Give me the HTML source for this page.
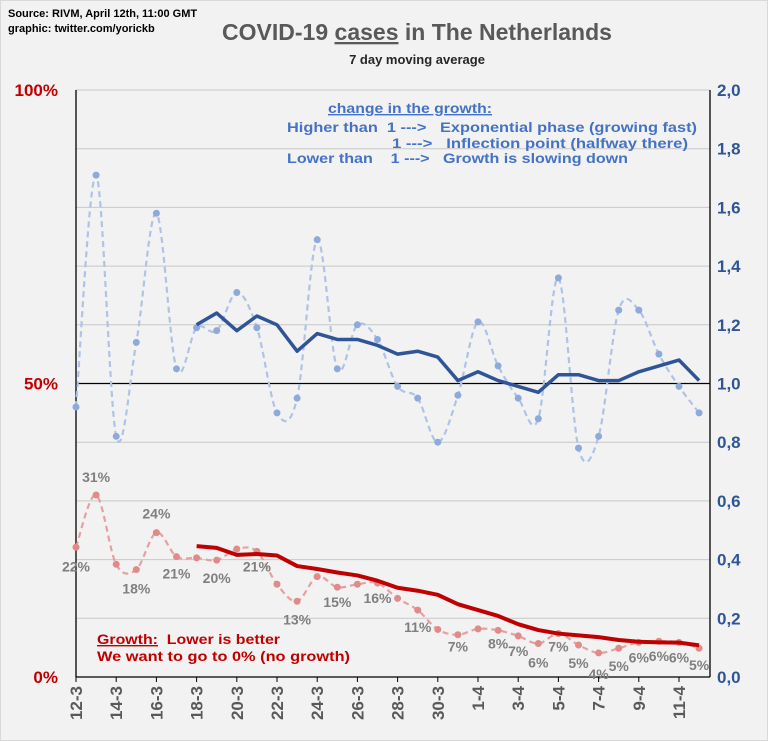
<!DOCTYPE html>
<html><head><meta charset="utf-8"><style>
html,body{margin:0;padding:0;background:#f2f2f2;}
svg{display:block;font-family:"Liberation Sans",sans-serif;}
</style></head><body>
<svg id="chart" width="768" height="741" viewBox="0 0 768 741">
<rect x="0.5" y="0.5" width="767" height="740" fill="#f2f2f2" stroke="#d9d9d9"/>
<text x="8" y="17" font-size="11" font-weight="bold" fill="#000">Source: RIVM, April 12th, 11:00 GMT</text>
<text x="8" y="32" font-size="11" font-weight="bold" fill="#000">graphic: twitter.com/yorickb</text>
<text x="417" y="40" font-size="23" font-weight="bold" fill="#595959" text-anchor="middle">COVID-19 <tspan text-decoration="underline">cases</tspan> in The Netherlands</text>
<text x="417" y="64" font-size="13" font-weight="bold" fill="#262626" text-anchor="middle">7 day moving average</text>
<g id="grid"></g>
<g id="axes"></g>
<g id="series"></g>
<g font-size="14" font-weight="bold" fill="#4472c4">
<text x="328" y="113" textLength="164" lengthAdjust="spacingAndGlyphs" text-decoration="underline">change in the growth:</text>
<text x="287" y="132" textLength="410" lengthAdjust="spacingAndGlyphs">Higher than&#160;&#160;1 ---&gt;&#160;&#160;&#160;Exponential phase (growing fast)</text>
<text x="392" y="148" textLength="296" lengthAdjust="spacingAndGlyphs">1 ---&gt;&#160;&#160;&#160;Inflection point (halfway there)</text>
<text x="287" y="163" textLength="341" lengthAdjust="spacingAndGlyphs">Lower than&#160;&#160;&#160;&#160;1 ---&gt;&#160;&#160;&#160;Growth is slowing down</text>
</g>
<g font-size="14" font-weight="bold" fill="#c00000">
<text x="97" y="644" textLength="183" lengthAdjust="spacingAndGlyphs"><tspan text-decoration="underline">Growth:</tspan>&#160;&#160;Lower is better</text>
<text x="97" y="661" textLength="253" lengthAdjust="spacingAndGlyphs">We want to go to 0% (no growth)</text>
</g>
</svg>
<script>
const dates = ["12-3","13-3","14-3","15-3","16-3","17-3","18-3","19-3","20-3","21-3","22-3","23-3","24-3","25-3","26-3","27-3","28-3","29-3","30-3","31-3","1-4","2-4","3-4","4-4","5-4","6-4","7-4","8-4","9-4","10-4","11-4","12-4"];
const growthFactor = [0.92,1.71,0.82,1.14,1.58,1.05,1.19,1.18,1.31,1.19,0.90,0.95,1.49,1.05,1.20,1.15,0.99,0.95,0.80,0.96,1.21,1.06,0.95,0.88,1.36,0.78,0.82,1.25,1.25,1.10,0.99,0.90];
const growthFactorAvg = [null,null,null,null,null,null,1.20,1.24,1.18,1.23,1.20,1.11,1.17,1.15,1.15,1.13,1.10,1.11,1.09,1.01,1.04,1.01,0.99,0.97,1.03,1.03,1.01,1.01,1.04,1.06,1.08,1.01];
const growthPct = [22.1,31,19.2,18.3,24.6,20.5,20.3,19.9,21.8,21.4,15.8,12.9,17.1,15.3,15.8,16.0,13.4,11.4,8.1,7.2,8.2,7.95,7.0,5.7,7.4,5.45,4.1,4.9,5.9,6.1,5.9,4.9];
const growthPctAvg = [null,null,null,null,null,null,22.3,22.0,20.8,20.95,20.7,18.9,18.4,17.8,17.3,16.4,15.2,14.7,14.0,12.4,11.4,10.4,9.0,8.0,7.4,7.1,6.8,6.3,6.0,5.9,5.85,5.4];
const pctLabels = ["22%","31%","18%","24%","21%","20%","21%","13%","15%","16%","11%","7%","8%","7%","6%","7%","5%","4%","5%","6%","6%","6%","5%"];
const pctLabelDays = [0,1,3,4,5,7,9,11,13,15,17,19,21,22,23,24,25,26,27,28,29,30,31];
const rightTicks = ["0,0","0,2","0,4","0,6","0,8","1,0","1,2","1,4","1,6","1,8","2,0"];
const leftTicks = ["0%","50%","100%"];

const NS="http://www.w3.org/2000/svg";
const X0=76, DX=20.1, Y0=677, YTOP=90, XR=710;
function xPos(i){return X0+i*DX;}
function yRight(v){return Y0-(v/2)*(Y0-YTOP);}
function yLeft(p){return Y0-(p/100)*(Y0-YTOP);}
function mk(tag,attrs,parent){const e=document.createElementNS(NS,tag);for(const k in attrs)e.setAttribute(k,attrs[k]);parent.appendChild(e);return e;}
function smooth(pts){let d="M"+pts[0][0]+","+pts[0][1];for(let i=0;i<pts.length-1;i++){const p0=pts[i-1]||pts[i],p1=pts[i],p2=pts[i+1],p3=pts[i+2]||p2;const t=0.5/3;d+=" C"+(p1[0]+(p2[0]-p0[0])*t)+","+(p1[1]+(p2[1]-p0[1])*t)+" "+(p2[0]-(p3[0]-p1[0])*t)+","+(p2[1]-(p3[1]-p1[1])*t)+" "+p2[0]+","+p2[1];}return d;}

const grid=document.getElementById('grid'), axes=document.getElementById('axes'), series=document.getElementById('series');
rightTicks.forEach((t,i)=>{
  const v=i*0.2, y=yRight(v);
  if(i>0&&i!==5){const l=mk('line',{x1:X0,x2:XR,y1:y,y2:y,stroke:'#c8c8c8','stroke-width':1},grid);
  
  }
  const tx=mk('text',{x:717,y:y+6,'font-size':17,'font-weight':'bold',fill:'#2f5597'},axes);
  tx.textContent=t;
  
  
});
leftTicks.forEach((t,i)=>{
  const y=yLeft(i*50);
  const tx=mk('text',{x:58,y:y+6,'font-size':17,'font-weight':'bold',fill:'#c00000','text-anchor':'end'},axes);
  tx.textContent=t;
  
  
});
let l1=mk('line',{x1:X0,x2:XR,y1:yRight(1),y2:yRight(1),stroke:'#000','stroke-width':1.3},axes);


let la=mk('line',{x1:X0,x2:X0,y1:YTOP,y2:Y0,stroke:'#000','stroke-width':1.3},axes);


let ra=mk('line',{x1:XR,x2:XR,y1:YTOP,y2:Y0,stroke:'#000','stroke-width':1.3},axes);


let xa=mk('line',{x1:X0,x2:XR,y1:Y0,y2:Y0,stroke:'#000','stroke-width':1.3},axes);


dates.forEach((d,i)=>{
  if(i%2)return;
  const x=xPos(i);
  const tk=mk('line',{x1:x,x2:x,y1:Y0,y2:Y0+5,stroke:'#000'},axes);
  
  
  const tx=mk('text',{x:0,y:0,'font-size':17,'font-weight':'bold',fill:'#595959','text-anchor':'end',transform:`translate(${x+6},${Y0+9}) rotate(-90)`},axes);
  tx.textContent=d;
  
  
});

const gPts=growthFactor.map((v,i)=>[xPos(i),yRight(v)]);
let p=mk('path',{d:smooth(gPts),fill:'none',stroke:'#aec3e6','stroke-width':2.2,'stroke-dasharray':'6,4'},series);


gPts.forEach(pt=>{const c=mk('circle',{cx:pt[0],cy:pt[1],r:3.5,fill:'#8eaadb'},series);

});
const aPts=[];growthFactorAvg.forEach((v,i)=>{if(v!==null)aPts.push(xPos(i)+','+yRight(v));});
let pl=mk('polyline',{points:aPts.join(' '),fill:'none',stroke:'#2f5597','stroke-width':3.5,'stroke-linejoin':'round'},series);


const rPts=growthPct.map((v,i)=>[xPos(i),yLeft(v)]);
let rp=mk('path',{d:smooth(rPts),fill:'none',stroke:'#e6a0a0','stroke-width':2.2,'stroke-dasharray':'6,4'},series);


rPts.forEach(pt=>{const c=mk('circle',{cx:pt[0],cy:pt[1],r:3.5,fill:'#e08a8a'},series);

});
const raPts=[];growthPctAvg.forEach((v,i)=>{if(v!==null)raPts.push(xPos(i)+','+yLeft(v));});
let rl=mk('polyline',{points:raPts.join(' '),fill:'none',stroke:'#c00000','stroke-width':4,'stroke-linejoin':'round'},series);


const labelOffsets=[[0,24],[0,-13],[0,24],[0,-14],[0,22],[0,23],[0,20],[0,23],[0,20],[0,20],[0,22],[0,17],[0,18],[0,20],[0,24],[0,18],[0,23],[0,26],[0,23],[0,20],[0,20],[0,20],[0,22]];
pctLabels.forEach((t,k)=>{
  const i=pctLabelDays[k], o=labelOffsets[k];
  const tx=mk('text',{x:xPos(i)+o[0],y:yLeft(growthPct[i])+o[1],'font-size':14,'font-weight':'bold',fill:'#7f7f7f','text-anchor':'middle'},series);
  tx.textContent=t;
  
  
});
</script>
</body></html>
